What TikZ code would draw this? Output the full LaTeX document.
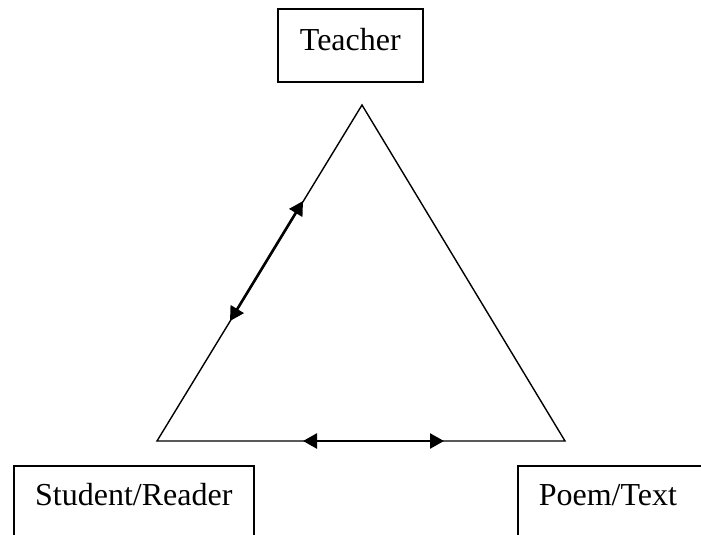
\documentclass[tikz,border=0pt]{standalone}
\usepackage{fontspec}
\setmainfont{Liberation Serif}
\usetikzlibrary{arrows.meta}

\tikzset{
  box/.style={draw, line width=1.6pt, inner sep=0pt, font=\fontsize{32}{38}\selectfont},
  side/.style={line width=1.4pt, line join=miter},
  twoway/.style={line width=2.6pt, {Triangle[length=14pt,width=15pt]}-{Triangle[length=14pt,width=15pt]}},
}

\begin{document}
\begin{tikzpicture}[x=1pt, y=-1pt]
\useasboundingbox (0,0) rectangle (701,535);
% the three parties
\node[box, anchor=north west, minimum width=145pt, text height=42pt, text depth=31pt] (teacher) at (277,8) {Teacher};
\node[box, anchor=north west, minimum width=240pt, text height=40pt, text depth=70pt] (student) at (13,465) {Student/Reader};
\node[box, anchor=north west, text width=240pt, align=left, inner xsep=21pt, text height=40pt, text depth=70pt] (poem) at (517,465) {Poem/Text};
% triangle corners
\coordinate (apex) at (362,105);
\coordinate (left) at (157,441);
\coordinate (right) at (565,441);
\draw[side] (apex) -- (left) -- (right) -- cycle;
% arrows on the sides
\coordinate (ltop) at (303,201);
\coordinate (lbot) at (230,321);
\draw[twoway] (lbot) -- (ltop);
\coordinate (bleft) at (303,441);
\coordinate (bright) at (444,441);
\draw[twoway] (bleft) -- (bright);
\end{tikzpicture}
\end{document}
